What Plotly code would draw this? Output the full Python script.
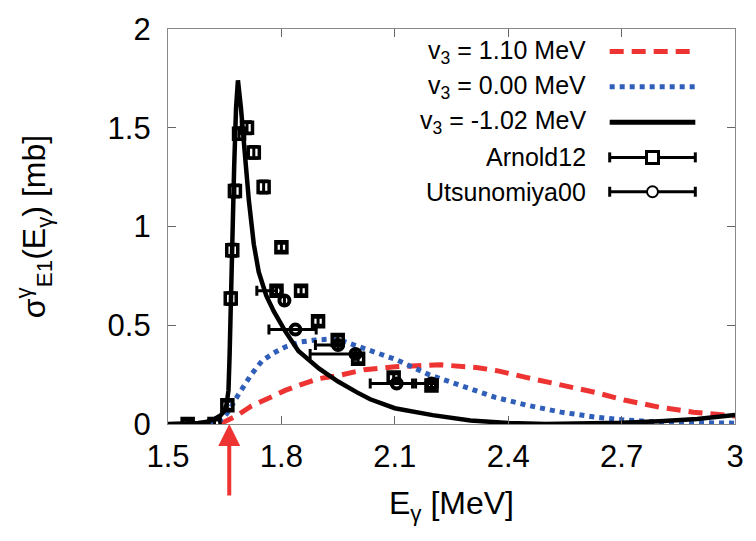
import plotly.graph_objects as go

# ---- data ----
x_black = [1.50, 1.55, 1.58, 1.60, 1.62, 1.64, 1.65, 1.655, 1.66, 1.663, 1.666, 1.670, 1.675,
           1.680, 1.685, 1.693, 1.703, 1.714, 1.727, 1.74, 1.76, 1.78, 1.81, 1.845, 1.90, 1.95,
           2.00, 2.035, 2.10, 2.20, 2.30, 2.40, 2.50, 2.60, 2.70, 2.80, 2.90, 3.00]
y_black = [0.0, 0.002, 0.005, 0.01, 0.022, 0.045, 0.07, 0.10, 0.17, 0.35, 0.62, 1.00, 1.30,
           1.60, 1.74, 1.60, 1.35, 1.13, 0.91, 0.77, 0.65, 0.57, 0.47, 0.37, 0.28, 0.215,
           0.16, 0.125, 0.08, 0.045, 0.018, 0.005, 0.0, 0.001, 0.006, 0.014, 0.025, 0.045]

x_red = [1.58, 1.62, 1.65, 1.68, 1.72, 1.766, 1.81, 1.852, 1.90, 1.95, 2.02, 2.10, 2.22,
         2.32, 2.37, 2.45, 2.54, 2.63, 2.71, 2.80, 2.89, 3.00]
y_red = [0.0, 0.003, 0.012, 0.04, 0.09, 0.134, 0.17, 0.20, 0.23, 0.245, 0.275, 0.29, 0.30,
         0.285, 0.27, 0.235, 0.20, 0.16, 0.12, 0.085, 0.06, 0.04]

x_blue = [1.58, 1.62, 1.645, 1.662, 1.68, 1.697, 1.72, 1.749, 1.78, 1.81, 1.85, 1.89, 1.93,
          1.97, 2.02, 2.105, 2.19, 2.28, 2.366, 2.45, 2.54, 2.63, 2.71, 2.80, 2.90, 3.00]
y_blue = [0.0, 0.006, 0.025, 0.07, 0.13, 0.18, 0.25, 0.32, 0.36, 0.39, 0.415, 0.425, 0.43,
          0.415, 0.38, 0.325, 0.25, 0.19, 0.135, 0.095, 0.06, 0.035, 0.02, 0.01, 0.006, 0.004]

arnold_x = [1.552, 1.623, 1.657, 1.666, 1.670, 1.677, 1.688, 1.709, 1.727, 1.753, 1.800,
            1.787, 1.852, 1.897, 1.949, 2.003, 2.097, 2.197]
arnold_y = [0.0, 0.0, 0.095, 0.635, 0.88, 1.18, 1.47, 1.50, 1.375, 1.20, 0.895,
            0.675, 0.675, 0.52, 0.425, 0.33, 0.235, 0.195]
arnold_yerr = [0.02, 0.02, 0.02, 0.03, 0.03, 0.03, 0.03, 0.03, 0.03, 0.03, 0.02,
               0.02, 0.02, 0.02, 0.02, 0.02, 0.02, 0.02]

utsu_x = [1.787, 1.808, 1.837, 1.950, 1.996, 2.105, 2.197]
utsu_y = [0.675, 0.625, 0.478, 0.400, 0.355, 0.205, 0.205]
utsu_xerr_minus = [0.052, 0.0, 0.07, 0.06, 0.12, 0.07, 0.05]
utsu_xerr_plus = [0.0, 0.0, 0.055, 0.0, 0.0, 0.05, 0.015]

x_ticks = [1.5, 1.8, 2.1, 2.4, 2.7, 3.0]
x_ticktext = ["1.5", "1.8", "2.1", "2.4", "2.7", "3"]
y_ticks = [0, 0.5, 1, 1.5, 2]
y_ticktext = ["0", "0.5", "1", "1.5", "2"]

legend_labels = ["v<sub>3</sub> = 1.10 MeV", "v<sub>3</sub> = 0.00 MeV",
                 "v<sub>3</sub> = -1.02 MeV", "Arnold12", "Utsunomiya00"]

threshold = 1.662

RED = "#ee3333"
BLUE = "#2f5fb8"
FONT = "Liberation Sans, Arial, sans-serif"

fig = go.Figure()

fig.add_trace(go.Scatter(x=x_red, y=y_red, mode="lines",
                         line=dict(color=RED, width=5, dash="14px,8px"), showlegend=False))
fig.add_trace(go.Scatter(x=x_blue, y=y_blue, mode="lines",
                         line=dict(color=BLUE, width=5, dash="5px,5px"), showlegend=False))
fig.add_trace(go.Scatter(x=x_black, y=y_black, mode="lines",
                         line=dict(color="black", width=4.5), showlegend=False))

fig.add_trace(go.Scatter(
    x=utsu_x, y=utsu_y, mode="markers",
    marker=dict(symbol="circle-open", size=10, color="black", line=dict(width=4, color="black")),
    error_x=dict(type="data", symmetric=False, array=utsu_xerr_plus,
                 arrayminus=utsu_xerr_minus, color="black", thickness=3, width=5),
    showlegend=False))

fig.add_trace(go.Scatter(
    x=arnold_x, y=arnold_y, mode="markers",
    marker=dict(symbol="square-open", size=11, color="black", line=dict(width=3.5, color="black")),
    error_y=dict(type="data", array=arnold_yerr, color="black", thickness=3, width=5),
    showlegend=False))

# ---- custom legend (text left of sample, as in reference) ----
row_y = [0.943, 0.854, 0.764, 0.675, 0.588]
lx0, lx1, ltext = 0.779, 0.930, 0.740
lmid = (lx0 + lx1) / 2
annotations = []
shapes = []
for lab, ry in zip(legend_labels, row_y):
    annotations.append(dict(xref="paper", yref="paper", x=ltext, y=ry, text=lab,
                            showarrow=False, xanchor="right", yanchor="middle",
                            font=dict(family=FONT, size=25, color="black")))
shapes.append(dict(type="line", xref="paper", yref="paper", x0=lx0, x1=lx1, y0=row_y[0], y1=row_y[0],
                   line=dict(color=RED, width=5, dash="14px,8px")))
shapes.append(dict(type="line", xref="paper", yref="paper", x0=lx0, x1=lx1, y0=row_y[1], y1=row_y[1],
                   line=dict(color=BLUE, width=5, dash="5px,5px")))
shapes.append(dict(type="line", xref="paper", yref="paper", x0=lx0, x1=lx1, y0=row_y[2], y1=row_y[2],
                   line=dict(color="black", width=5)))
for ry in row_y[3:]:
    shapes.append(dict(type="line", xref="paper", yref="paper", x0=lx0, x1=lx1, y0=ry, y1=ry,
                       line=dict(color="black", width=3)))
    for xx in (lx0, lx1):
        shapes.append(dict(type="line", xref="paper", yref="paper", ysizemode="pixel",
                           x0=xx, x1=xx, yanchor=ry, y0=-5, y1=5,
                           line=dict(color="black", width=3)))
shapes.append(dict(type="rect", xref="paper", yref="paper", xsizemode="pixel", ysizemode="pixel",
                   xanchor=lmid, yanchor=row_y[3], x0=-6, x1=6, y0=-6, y1=6,
                   fillcolor="white", line=dict(color="black", width=3)))
shapes.append(dict(type="circle", xref="paper", yref="paper", xsizemode="pixel", ysizemode="pixel",
                   xanchor=lmid, yanchor=row_y[4], x0=-5.5, x1=5.5, y0=-5.5, y1=5.5,
                   fillcolor="white", line=dict(color="black", width=2)))

# threshold arrow
annotations.append(dict(x=threshold, y=0, xref="x", yref="y", ax=0, ay=73, text="",
                        showarrow=True, arrowhead=2, arrowsize=1.1, arrowwidth=4,
                        arrowcolor=RED, standoff=0))

fig.update_layout(
    width=756, height=541,
    margin=dict(l=168, r=14, t=21, b=117),
    paper_bgcolor="white", plot_bgcolor="white",
    font=dict(family=FONT, color="black"),
    annotations=annotations, shapes=shapes,
    showlegend=False,
)
axis_common = dict(showgrid=False, zeroline=False, showline=True, linecolor="#888888", linewidth=1.2,
                   mirror="ticks", ticks="inside", ticklen=8, tickcolor="#666666", tickwidth=1,
                   tickfont=dict(family=FONT, size=31, color="black"))
fig.update_xaxes(range=[1.5, 3.0], tickvals=x_ticks, ticktext=x_ticktext, ticklabelstandoff=5,
                 title=dict(text="E<sub>γ</sub> [MeV]", font=dict(family=FONT, size=32), standoff=18),
                 **axis_common)
fig.update_yaxes(range=[0, 2], tickvals=y_ticks, ticktext=y_ticktext, ticklabelstandoff=10,
                 title=dict(text="σ<sup>γ</sup><sub>E1</sub>(E<sub>γ</sub>) [mb]",
                            font=dict(family=FONT, size=32), standoff=52),
                 **axis_common)

fig.write_html("out.html")
